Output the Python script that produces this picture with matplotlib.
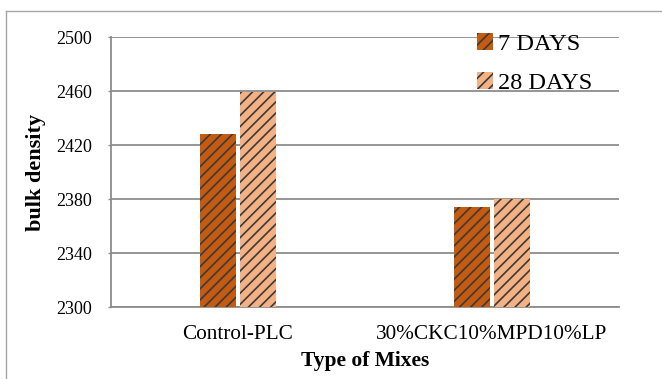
import matplotlib
matplotlib.use("Agg")
import matplotlib.pyplot as plt
import numpy as np
from matplotlib.lines import Line2D

# Bulk density of each mix at two curing ages
categories = ["Control-PLC", "30%CKC10%MPD10%LP"]
series_names = ["7 DAYS", "28 DAYS"]
density_7d = [2428, 2374]
density_28d = [2459, 2380]
y_ticks = [2300, 2340, 2380, 2420, 2460, 2500]

plt.rcParams["font.family"] = ["Liberation Serif", "DejaVu Serif"]
plt.rcParams["hatch.linewidth"] = 1.2

W, H = 662, 379
fig = plt.figure(figsize=(W / 100, H / 100), dpi=100)
ax = fig.add_axes([111 / W, 1 - 307 / H, (619 - 111) / W, (307 - 37) / H])

x = np.arange(len(categories))
bw = 0.142
off = 0.078
colors = ["#C55A11", "#F4B183"]
hatch_col = "#3a3a3a"

handles = []
for vals, dx, col in [(density_7d, -off, colors[0]),
                      (density_28d, off, colors[1])]:
    ax.bar(x + dx, vals, bw, color=col, linewidth=0, zorder=3)
    ax.bar(x + dx, vals, bw, facecolor="none", edgecolor=hatch_col,
           hatch="///", linewidth=0, zorder=4)
    handles.append(plt.Rectangle((0, 0), 1, 1, facecolor=col,
                                 edgecolor=hatch_col, hatch="///", linewidth=0))

ax.set_xlim(-0.5, 1.5)
ax.set_ylim(2300, 2500)
ax.set_yticks(y_ticks)
ax.set_yticklabels([str(v) for v in y_ticks], fontsize=13)
ax.set_xticks(x)
ax.set_xticklabels(categories, fontsize=15.3)
ax.tick_params(axis="x", length=0, pad=13)
ax.tick_params(axis="y", length=2.5, width=1, color="#8c8c8c", pad=11)

ax.grid(axis="y", color="#8c8c8c", linewidth=1.3, zorder=0)
for s in ["top", "right"]:
    ax.spines[s].set_visible(False)
for s in ["left", "bottom"]:
    ax.spines[s].set_color("#8c8c8c")
    ax.spines[s].set_linewidth(1.3)

ax.set_xlabel("Type of Mixes", fontsize=15.5, fontweight="bold", labelpad=5)
ax.set_ylabel("bulk density", fontsize=16, fontweight="bold", labelpad=7.5)

ax.legend(handles, series_names, loc="upper left",
          bbox_to_anchor=((467 - 111) / (619 - 111), 1.05),
          frameon=False, fontsize=17.5, handlelength=0.68,
          handleheight=0.68, handletextpad=0.2, labelspacing=0.7,
          borderaxespad=0.0)

# outer chart-area frame
frame_col = "#a6a6a6"
fig.add_artist(Line2D([6 / W, 6 / W], [0, 1 - 11 / H], transform=fig.transFigure,
                      color=frame_col, linewidth=1.0))
fig.add_artist(Line2D([6 / W, 1], [1 - 11 / H, 1 - 11 / H], transform=fig.transFigure,
                      color=frame_col, linewidth=1.0))

fig.savefig("out.png", dpi=100)
